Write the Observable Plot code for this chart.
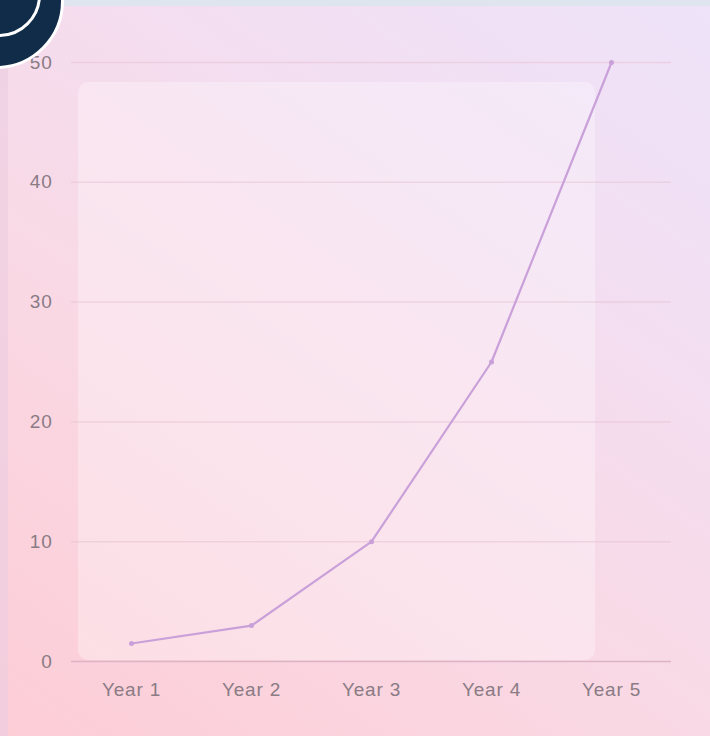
<!DOCTYPE html>
<html>
<head>
<meta charset="utf-8">
<script src="https://cdn.jsdelivr.net/npm/d3@7"></script>
<script src="https://cdn.jsdelivr.net/npm/@observablehq/plot@0.6"></script>
<style>
  html, body { margin: 0; padding: 0; }
  body { width: 710px; height: 736px; overflow: hidden; font-family: "Liberation Sans", Arial, sans-serif; }
  #stage {
    position: relative; width: 710px; height: 736px; overflow: hidden;
    background: linear-gradient(35deg, #fdcdd6 0%, #f9d9e5 40%, #f3def1 70%, #eee3f9 100%);
  }
  #topstrip { position: absolute; left: 0; top: 0; width: 710px; height: 6px; background: #dfe5ee; }
  #leftstrip { position: absolute; left: 0; top: 6px; width: 8px; height: 730px; background: rgba(235, 205, 225, 0.6); }
  #panel {
    position: absolute; left: 78px; top: 82px; width: 517px; height: 578px;
    background: rgba(255, 255, 255, 0.3); border-radius: 10px;
  }
  #badge {
    position: absolute; left: -72px; top: -67px; width: 130px; height: 130px;
    border-radius: 50%; background: #102c48; border: 3px solid #ffffff; box-sizing: content-box;
  }
  #badge-ring {
    position: absolute; left: -43px; top: -47px; width: 78px; height: 78px;
    border-radius: 50%; border: 3px solid #ffffff;
  }
  #chart { position: absolute; left: 0; top: 0; }
  #chart svg { background: transparent; }
  #chart svg text { letter-spacing: 0.8px; }
</style>
</head>
<body>
<div id="stage">
  <div id="topstrip"></div>
  <div id="leftstrip"></div>
  <div id="panel"></div>
  <div id="chart"></div>
  <div id="badge"></div>
  <div id="badge-ring"></div>
</div>
<script>
const years = ["Year 1", "Year 2", "Year 3", "Year 4", "Year 5"];
const values = [1.5, 3, 10, 25, 50];
const yTicks = [0, 10, 20, 30, 40, 50];

const data = years.map((year, i) => ({year, value: values[i]}));

const lineColor = "#c9a0d9";
const textColor = "#8a7b84";

const chart = Plot.plot({
  width: 710,
  height: 736,
  marginLeft: 71,
  marginRight: 39,
  marginTop: 62,
  marginBottom: 75,
  style: {background: "transparent", fontFamily: "'Liberation Sans', Arial, sans-serif", fontSize: "19px", color: textColor},
  x: {type: "point", domain: years, padding: 0.5, label: null, tickSize: 0, tickPadding: 21},
  y: {domain: [0, 50], ticks: yTicks, label: null, tickSize: 0, tickPadding: 19},
  marks: [
    Plot.gridY(yTicks.filter(d => d > 0), {stroke: "#e6bfd2", strokeOpacity: 0.5, strokeWidth: 1.5}),
    Plot.ruleY([0], {stroke: "#dcb4c6", strokeWidth: 1.5}),
    Plot.line(data, {x: "year", y: "value", stroke: lineColor, strokeWidth: 2.2}),
    Plot.dot(data, {x: "year", y: "value", r: 2.5, fill: lineColor, stroke: "none"})
  ]
});
document.getElementById("chart").appendChild(chart);
</script>
</body>
</html>
